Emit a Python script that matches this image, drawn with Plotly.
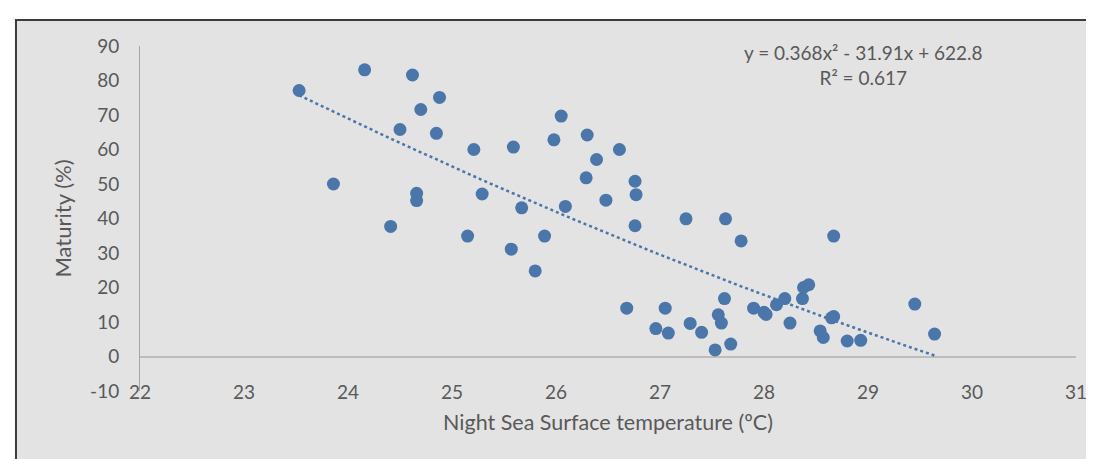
import numpy as np
import plotly.graph_objects as go

# Data
temperature = [23.53, 24.16, 24.62, 24.88, 24.70, 24.50, 24.85, 25.21, 25.59, 26.05,
               25.98, 23.86, 24.66, 24.66, 25.29, 25.67, 26.09, 24.41, 25.15, 25.89,
               25.57, 25.80, 26.30, 26.61, 26.39, 26.29, 26.76, 26.77, 26.48, 26.76,
               27.25, 27.63, 27.78, 28.67, 26.68, 27.05, 26.96, 27.08, 27.29, 27.40,
               27.62, 27.56, 27.59, 27.53, 27.68, 27.90, 28.00, 28.02, 28.12, 28.20,
               28.25, 28.37, 28.38, 28.43, 28.54, 28.57, 28.67, 28.65, 28.80, 28.93,
               29.45, 29.64]
maturity = [77.1, 83.1, 81.6, 75.1, 71.6, 65.8, 64.7, 60.0, 60.7, 69.7,
            62.8, 50.0, 47.3, 45.2, 47.1, 43.1, 43.5, 37.7, 34.9, 34.9,
            31.1, 24.8, 64.2, 60.0, 57.1, 51.8, 50.8, 46.9, 45.3, 37.9,
            39.9, 39.9, 33.5, 34.9, 14.0, 14.0, 8.1, 6.8, 9.6, 7.0,
            16.8, 12.1, 9.7, 1.9, 3.6, 14.0, 12.8, 12.2, 15.0, 16.8,
            9.7, 16.8, 20.0, 20.8, 7.4, 5.5, 11.6, 11.2, 4.5, 4.7,
            15.2, 6.5]

# Polynomial trendline coefficients (as displayed)
trend_coef = [0.368, -31.91, 622.8]
equation_text = "y = 0.368x² - 31.91x + 622.8"
r2_text = "R² = 0.617"

x_ticks = [22, 23, 24, 25, 26, 27, 28, 29, 30, 31]
y_ticks = [-10, 0, 10, 20, 30, 40, 50, 60, 70, 80, 90]

blue = "#4a76aa"
text_col = "#595959"
font_family = "Lato, 'Open Sans', sans-serif"

tx = np.linspace(min(temperature), max(temperature), 200)
ty = np.polyval(trend_coef, tx)

fig = go.Figure()
fig.add_trace(go.Scatter(
    x=tx, y=ty, mode="lines",
    line=dict(color=blue, width=2.5, dash="dot"),
    hoverinfo="skip", showlegend=False))
fig.add_trace(go.Scatter(
    x=temperature, y=maturity, mode="markers",
    marker=dict(color=blue, size=13, line=dict(width=0)),
    showlegend=False, name="Maturity"))

fig.add_annotation(
    x=28.96, y=84.6, xref="x", yref="y",
    text=equation_text + "<br>" + r2_text,
    showarrow=False, xanchor="center", yanchor="middle",
    font=dict(family=font_family, size=19, color=text_col))

fig.add_shape(type="rect", xref="paper", yref="paper",
              x0=-0.1325, x1=1.2, y0=-0.4, y1=1.0752,
              fillcolor="#e3e3e3", line=dict(color="#3c3c3c", width=2),
              layer="below")

fig.update_layout(
    width=1094, height=459,
    margin=dict(l=132, r=26, t=38, b=76),
    paper_bgcolor="white",
    plot_bgcolor="rgba(0,0,0,0)",
    font=dict(family=font_family, size=19, color=text_col),
    xaxis=dict(
        range=[22, 31], tickvals=x_ticks, ticktext=[str(v) for v in x_ticks],
        showgrid=False, zeroline=False, showline=False,
        ticks="", ticklabelstandoff=-12,
        title=dict(text="Night Sea Surface temperature (ºC)",
                   font=dict(family=font_family, size=21.5, color=text_col),
                   standoff=12),
    ),
    yaxis=dict(
        range=[-10, 90], tickvals=y_ticks, ticktext=[str(v) for v in y_ticks],
        showgrid=False, zeroline=True, zerolinecolor="#bdbdbd", zerolinewidth=1.5,
        showline=True, linecolor="#a6a6a6", linewidth=1,
        ticks="", ticklabelstandoff=16,
        title=dict(text="Maturity (%)",
                   font=dict(family=font_family, size=22, color=text_col),
                   standoff=12),
    ),
)

fig.write_html("out.html")
